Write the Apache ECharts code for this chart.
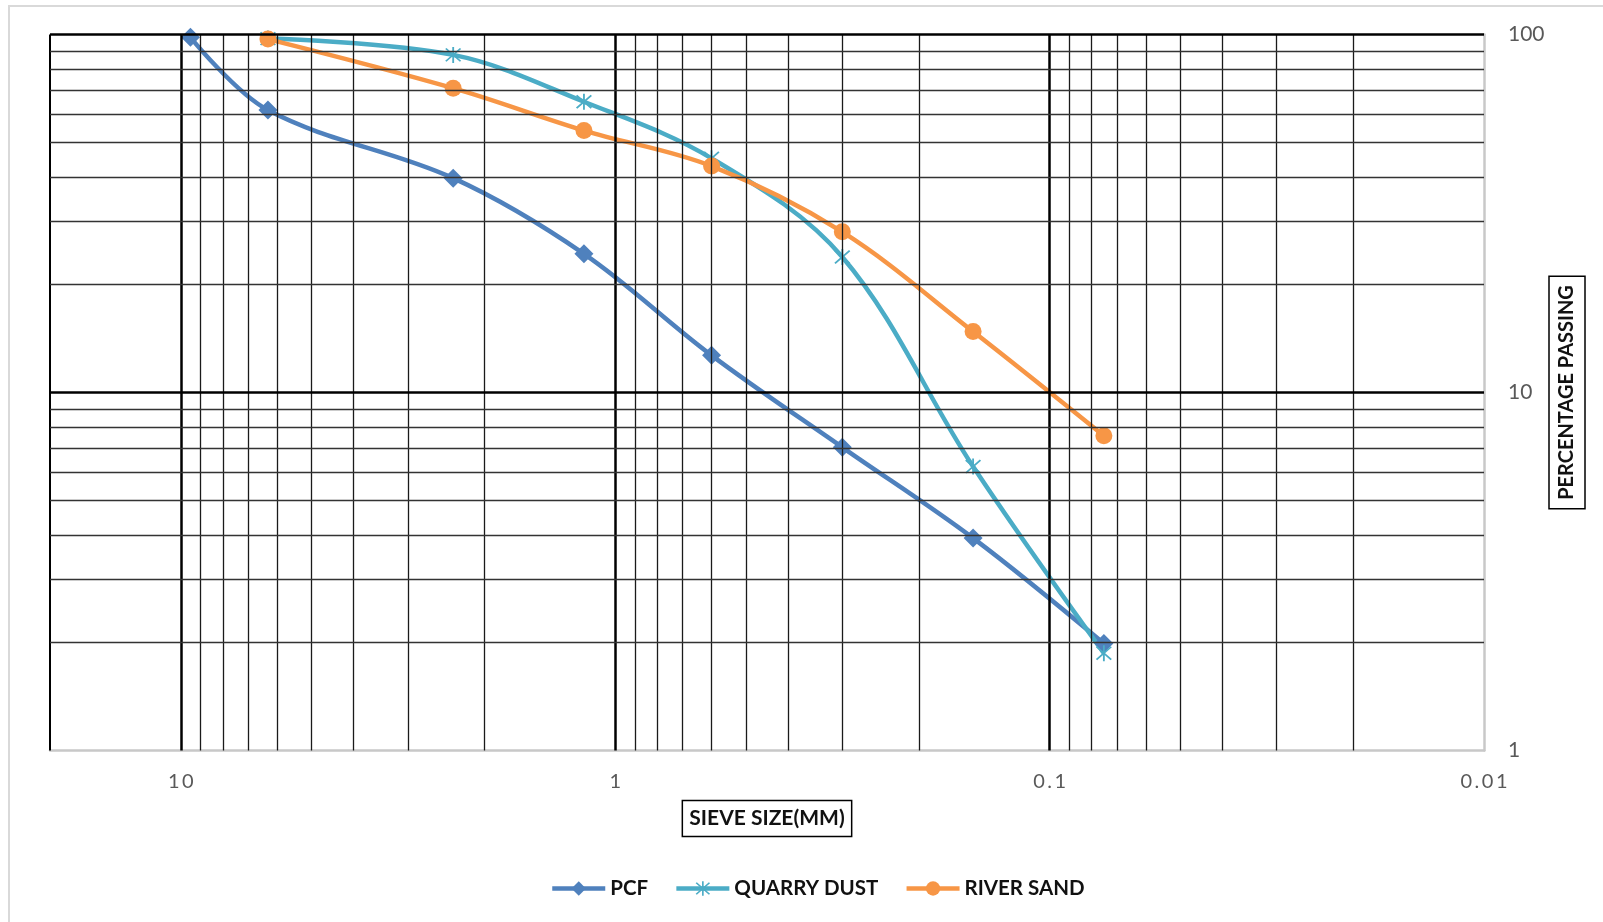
<!DOCTYPE html>
<html>
<head>
<meta charset="utf-8">
<title>Sieve analysis</title>
<script src="https://cdn.jsdelivr.net/npm/echarts@6/dist/echarts.min.js"></script>
<style>
  html, body { margin: 0; padding: 0; background: #fff; }
  #chart { width: 1603px; height: 922px; }
</style>
</head>
<body>
<div id="chart"></div>
<script>
// sieve sizes (mm) and % passing
const pcfSizes = [9.5, 6.3, 2.36, 1.18, 0.6, 0.3, 0.15, 0.075]
const pcfPassing = [98.2, 61.5, 39.7, 24.4, 12.7, 7.03, 3.92, 1.99]

const sandSizes = [6.3, 2.36, 1.18, 0.6, 0.3, 0.15, 0.075]
const quarryDustPassing = [97.4, 87.7, 64.9, 45.1, 23.9, 6.21, 1.87]
const riverSandPassing = [97.1, 70.8, 53.9, 42.9, 28.1, 14.8, 7.57]

// axis ticks (decades)
const xTickLabels = ['10', '1', '0.1', '0.01']
const yTickLabels = ['100', '10', '1']

// grid lines in data units
const xMajorLines = [10, 1, 0.1]
const xDecades = [1, 0.1, 0.01]
const yMajorLines = [100, 10]
const yDecades = [1, 10]

const pairs = (xs, ys) => xs.map((x, i) => [x, ys[i]])

// asterisk marker like excel's star
const starPath = 'path://M9 0 L11 0 L11 20 L9 20 Z M1.3 2.7 L2.7 1.3 L18.7 17.3 L17.3 18.7 Z M17.3 1.3 L18.7 2.7 L2.7 18.7 L1.3 17.3 Z'

const nameFont = "Lato, 'DejaVu Sans Condensed', sans-serif"
const tickFont = "Lato, 'Liberation Sans', sans-serif"

// build grid lines
const minorStyle = { color: '#1a1a1a', width: 1.3, type: 'solid' }
const minorStyleH = { color: '#333', width: 1.3, type: 'solid' }
const majorStyle = { color: '#000', width: 2.5, type: 'solid' }

const gridLines = []
xDecades.forEach(d => {
  for (let k = 2; k <= 9; k++) {
    gridLines.push({ xAxis: k * d, lineStyle: minorStyle })
  }
})
gridLines.push({ xAxis: 20, lineStyle: { color: '#000', width: 2, type: 'solid' } })
xMajorLines.forEach(v => gridLines.push({ xAxis: v, lineStyle: majorStyle }))
yDecades.forEach(d => {
  for (let k = 2; k <= 9; k++) {
    gridLines.push({ yAxis: k * d, lineStyle: minorStyleH })
  }
})
yMajorLines.forEach(v => gridLines.push({ yAxis: v, lineStyle: majorStyle }))

const chart = echarts.init(document.getElementById('chart'))

const option = {
  backgroundColor: '#fff',
  animation: false,
  graphic: [{
    type: 'rect',
    shape: { x: 9, y: 6, width: 1640, height: 960 },
    style: { fill: 'none', stroke: '#d9d9d9', lineWidth: 2 },
    silent: true,
    z: -1
  }],
  grid: {
    left: 50,
    right: 119,
    top: 34.5,
    bottom: 171.5,
    outerBoundsMode: 'none',
    containLabel: false
  },
  legend: {
    data: ['PCF', 'QUARRY DUST', 'RIVER SAND'],
    left: 550,
    top: 878,
    padding: 0,
    itemWidth: 53,
    itemHeight: 18,
    itemGap: 26,
    lineStyle: { width: 4.5 },
    textStyle: {
      fontFamily: nameFont,
      fontWeight: 'bold',
      fontSize: 20.5,
      color: '#111'
    }
  },
  xAxis: {
    type: 'log',
    logBase: 10,
    min: 0.01,
    max: 20,
    inverse: true,
    name: 'SIEVE SIZE(MM)',
    nameLocation: 'middle',
    nameGap: 50,
    nameTextStyle: {
      fontFamily: nameFont,
      fontWeight: 'bold',
      fontSize: 21,
      lineHeight: 26,
      color: '#111',
      borderColor: '#000',
      borderWidth: 1.5,
      padding: [5, 7]
    },
    axisLine: { show: true, onZero: false, lineStyle: { color: '#c8c8c8', width: 2.5 } },
    axisTick: { show: false },
    splitLine: { show: false },
    minorTick: { show: false },
    axisLabel: {
      margin: 21,
      fontFamily: tickFont,
      fontSize: 20,
      color: '#595959',
      formatter: v => {
        const s = xTickLabels.find(t => Math.abs(Number(t) - v) < 1e-9)
        return s ? s.split('').join('\u2009') : ''
      }
    }
  },
  yAxis: {
    type: 'log',
    logBase: 10,
    min: 1,
    max: 100,
    position: 'right',
    name: 'PERCENTAGE PASSING',
    nameLocation: 'middle',
    nameRotate: 90,
    nameGap: 65,
    nameMoveOverlap: false,
    nameTextStyle: {
      fontFamily: nameFont,
      fontWeight: 'bold',
      fontSize: 20,
      lineHeight: 24,
      color: '#111',
      borderColor: '#000',
      borderWidth: 1.5,
      padding: [6, 9]
    },
    axisLine: { show: true, onZero: false, lineStyle: { color: '#c8c8c8', width: 2.5 } },
    axisTick: { show: false },
    splitLine: { show: false },
    axisLabel: {
      margin: 24,
      fontFamily: tickFont,
      fontSize: 21,
      color: '#595959',
      formatter: v => {
        const s = yTickLabels.find(t => Math.abs(Number(t) - v) < 1e-9)
        return s || ''
      }
    }
  },
  series: [
    {
      name: 'grid',
      type: 'line',
      data: [],
      silent: true,
      z: 1,
      markLine: {
        silent: true,
        symbol: ['none', 'none'],
        label: { show: false },
        emphasis: { disabled: true },
        animation: false,
        data: gridLines
      }
    },
    {
      name: 'PCF',
      type: 'line',
      data: pairs(pcfSizes, pcfPassing),
      smooth: 0.35,
      z: 3,
      symbol: 'diamond',
      symbolSize: 19,
      lineStyle: { color: '#4F81BD', width: 4.5 },
      itemStyle: { color: '#4F81BD' }
    },
    {
      name: 'QUARRY DUST',
      type: 'line',
      data: pairs(sandSizes, quarryDustPassing),
      smooth: 0.35,
      z: 3,
      symbol: starPath,
      symbolSize: 16,
      lineStyle: { color: '#4BACC6', width: 4.5 },
      itemStyle: { color: '#4BACC6' }
    },
    {
      name: 'RIVER SAND',
      type: 'line',
      data: pairs(sandSizes, riverSandPassing),
      smooth: 0.35,
      z: 4,
      symbol: 'circle',
      symbolSize: 17,
      lineStyle: { color: '#F79646', width: 4.5 },
      itemStyle: { color: '#F79646' }
    }
  ]
}

chart.setOption(option)
window.addEventListener('resize', () => chart.resize())
</script>
</body>
</html>
